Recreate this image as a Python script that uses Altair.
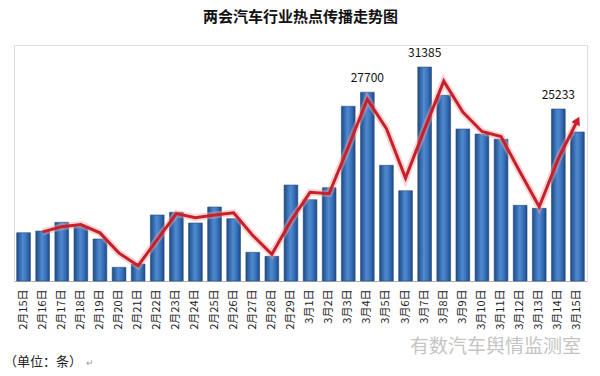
import altair as alt
import pandas as pd

dates = ["2月15日", "2月16日", "2月17日", "2月18日", "2月19日", "2月20日", "2月21日",
         "2月22日", "2月23日", "2月24日", "2月25日", "2月26日", "2月27日", "2月28日",
         "2月29日", "3月1日", "3月2日", "3月3日", "3月4日", "3月5日", "3月6日", "3月7日",
         "3月8日", "3月9日", "3月10日", "3月11日", "3月12日", "3月13日", "3月14日", "3月15日"]
values = [7080, 7330, 8610, 7960, 6160, 2010, 2490, 9680, 10080, 8510, 10860, 9140,
          4210, 3620, 14080, 11930, 13690, 25630, 27700, 16970, 13250, 31385, 27240,
          22300, 21560, 20790, 11100, 10660, 25233, 21860]
labelled = ["3月4日", "3月7日", "3月14日"]

df = pd.DataFrame({"date": dates, "value": values, "idx": range(len(dates))})
df["label"] = [str(v) if d in labelled else "" for d, v in zip(dates, values)]

FONT = "Noto Sans CJK SC"
W, H = 573, 236
YMAX = 34620

x = alt.X("date:N", sort=dates, title=None,
          scale=alt.Scale(paddingInner=0.28, paddingOuter=0.14),
          axis=alt.Axis(labelAngle=270, labelFontSize=11, labelFont=FONT,
                        labelColor="#222222", labelPadding=8, ticks=False,
                        domainColor="#b0b0b0", domainWidth=1))
y = alt.Y("value:Q", title=None, scale=alt.Scale(domain=[0, YMAX], nice=False),
          axis=None)
y_ma = alt.Y("ma:Q", scale=alt.Scale(domain=[0, YMAX], nice=False), axis=None)

base = alt.Chart(df)

bars = base.mark_bar(
    fill=alt.Gradient(gradient="linear", x1=0, x2=1, y1=0, y2=0,
                      stops=[alt.GradientStop(color="#1d4a86", offset=0),
                             alt.GradientStop(color="#4f8ad0", offset=0.45),
                             alt.GradientStop(color="#3b74bd", offset=0.7),
                             alt.GradientStop(color="#1d4a86", offset=1)]),
    stroke="#2a4f80", strokeWidth=0.6
).encode(x=x, y=y)

labels = base.transform_filter(alt.datum.label != "").mark_text(
    font=FONT, fontSize=12, dy=-7, baseline="bottom", color="#111111"
).encode(x=x, y=y, text="label:N")

ma = base.transform_window(
    ma="mean(value)", cnt="count()", frame=[-1, 0], sort=[alt.SortField("idx")]
).transform_filter(alt.datum.cnt == 2)

halo = ma.mark_line(color="#f2a0a0", strokeWidth=7, opacity=0.45).encode(x=x, y=y_ma)
line = ma.mark_line(color="#c8202a", strokeWidth=3).encode(x=x, y=y_ma)
arrow = ma.transform_filter(alt.datum.date == dates[-1]).mark_point(
    shape="triangle-up", filled=True, color="#c8202a", size=90, angle=27, opacity=1
).encode(x=x, y=y_ma)

foot = alt.Chart(pd.DataFrame({"t": ["（单位：条）"]})).mark_text(
    font=FONT, fontSize=13, align="left", baseline="middle", color="#222222"
).encode(x=alt.value(-10), y=alt.value(317), text="t:N")
ret = alt.Chart(pd.DataFrame({"t": ["↵"]})).mark_text(
    font=FONT, fontSize=9, align="left", baseline="middle", color="#999999"
).encode(x=alt.value(72), y=alt.value(318), text="t:N")
mark_wm = alt.Chart(pd.DataFrame({"t": ["有数汽车舆情监测室"]})).mark_text(
    font=FONT, fontSize=19, align="right", baseline="middle", color="#c4c4c4"
).encode(x=alt.value(567), y=alt.value(302), text="t:N")

chart = alt.layer(bars, halo, line, arrow, labels, foot, ret, mark_wm).properties(
    width=W, height=H,
    title=alt.TitleParams("两会汽车行业热点传播走势图", font=FONT, fontSize=15,
                          fontWeight="bold", color="#111111", anchor="middle", offset=20),
    autosize=alt.AutoSizeParams(type="none"),
    padding={"left": 14, "top": 45, "right": 13, "bottom": 95},
).configure_view(stroke=None).configure(background="white")

chart.save("out.html", embed_options={"renderer": "svg", "actions": False})
